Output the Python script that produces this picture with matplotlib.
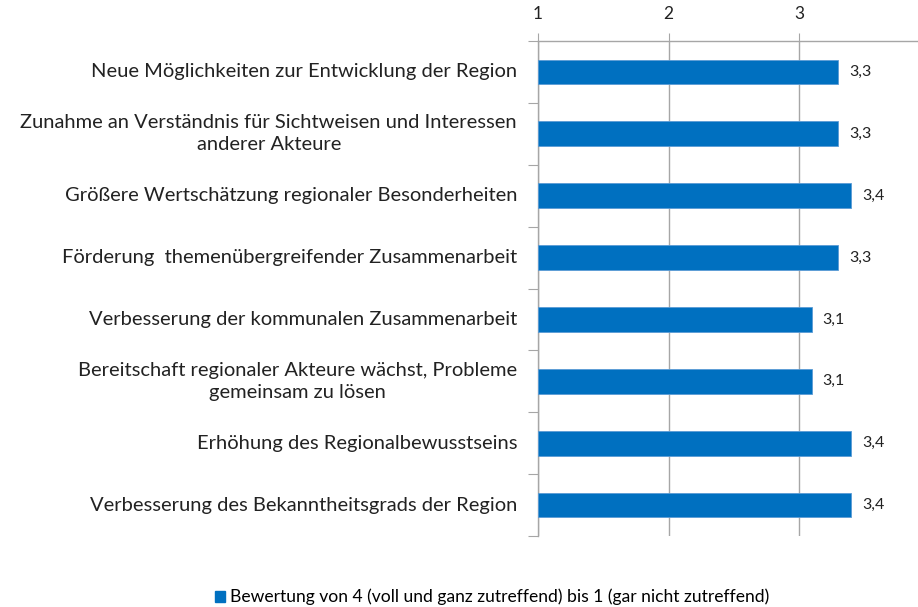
import matplotlib.pyplot as plt
from matplotlib.patches import Patch
import numpy as np

categories = [
    "Neue Möglichkeiten zur Entwicklung der Region",
    "Zunahme an Verständnis für Sichtweisen und Interessen\nanderer Akteure",
    "Größere Wertschätzung regionaler Besonderheiten",
    "Förderung  themenübergreifender Zusammenarbeit",
    "Verbesserung der kommunalen Zusammenarbeit",
    "Bereitschaft regionaler Akteure wächst, Probleme\ngemeinsam zu lösen",
    "Erhöhung des Regionalbewusstseins",
    "Verbesserung des Bekanntheitsgrads der Region",
]
values = [3.3, 3.3, 3.4, 3.3, 3.1, 3.1, 3.4, 3.4]
x_ticks = [1, 2, 3]
legend_label = "Bewertung von 4 (voll und ganz zutreffend) bis 1 (gar nicht zutreffend)"

blue = "#0070C0"
grey = "#A6A6A6"
font = ["Lato", "DejaVu Sans"]
plt.rcParams["font.family"] = font

fig = plt.figure(figsize=(9.18, 6.07), dpi=100)
ax = fig.add_axes([538 / 918, 1 - 536 / 607, 1 - 538 / 918, (536 - 41) / 607])

n = len(categories)
ypos = np.arange(n)
ax.barh(ypos, [v - 1 for v in values], left=1, height=0.4, color=blue,
        edgecolor="#5B9BD5", linewidth=0.6, zorder=3)
ax.set_xlim(1, 3.91)
ax.set_ylim(n - 0.5, -0.5)

for y, v in zip(ypos, values):
    ax.text(v + 0.08, y, f"{v:.1f}".replace(".", ","), va="center", ha="left",
            fontsize=11.5, color="#222222")
    ax.text(-0.055, y, categories[y], transform=ax.get_yaxis_transform(),
            ha="right", va="center", multialignment="center", linespacing=1.35,
            fontsize=14.5, color="#222222")

ax.xaxis.tick_top()
ax.set_xticks(x_ticks)
ax.set_xticklabels([str(t) for t in x_ticks], fontsize=12.5, color="#222222")
ax.tick_params(axis="x", direction="out", length=6, color=grey, pad=8)
ax.set_yticks(np.arange(-0.5, n, 1))
ax.set_yticklabels([])
ax.tick_params(axis="y", direction="out", length=7, color=grey)
ax.grid(axis="x", color=grey, linewidth=1, zorder=0)

for s in ["right", "bottom"]:
    ax.spines[s].set_visible(False)
for s in ["top", "left"]:
    ax.spines[s].set_color(grey)
    ax.spines[s].set_linewidth(1)

fig.legend(handles=[Patch(color=blue, label=legend_label)], loc="center",
           bbox_to_anchor=(492 / 918, 1 - 597 / 607), frameon=False,
           fontsize=12.6, handlelength=0.6, handleheight=0.6, handletextpad=0.3)

fig.savefig("out.png", dpi=100)
